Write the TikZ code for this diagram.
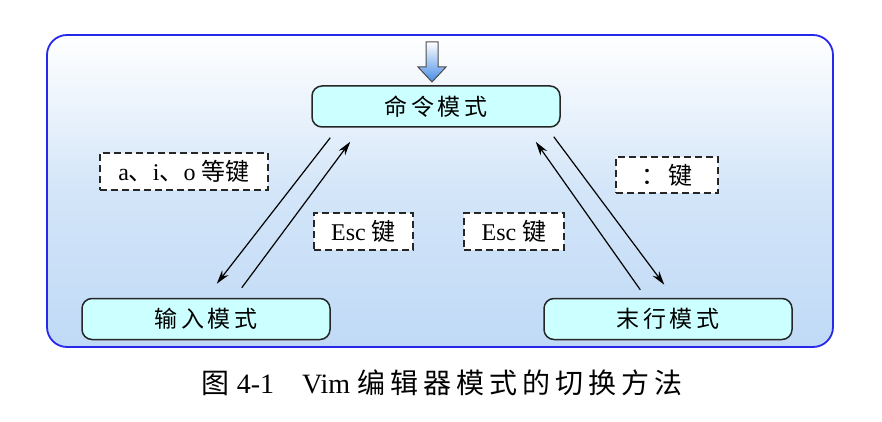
\documentclass[tikz,border=0pt]{standalone}
\usepackage{fontspec}
\setmainfont{Liberation Serif}
\newfontfamily\cjk{Noto Sans CJK SC}
\usetikzlibrary{arrows.meta,calc}
\definecolor{framblue}{RGB}{40,40,235}
\definecolor{bgblue}{RGB}{192,218,246}
\definecolor{modecyan}{RGB}{204,255,255}
\definecolor{arrblue}{RGB}{70,140,230}
\newcommand{\ck}{\kern5pt}
\tikzset{
  mode/.style={draw=black!85, line width=1.5pt, fill=modecyan, rounded corners=10pt,
    minimum width=248pt, minimum height=41pt, inner sep=0pt, font=\fontsize{23}{23}\selectfont\cjk},
  keybox/.style={draw=black!85, line width=1.9pt, dash pattern=on 7pt off 4pt, fill=white,
    inner sep=0pt, minimum height=37pt, font=\fontsize{24}{24}\selectfont},
  arr/.style={line width=1.2pt, -{Stealth[length=14pt,width=8pt]}}
}
\begin{document}
\begin{tikzpicture}[x=1pt,y=-1pt]
\useasboundingbox (0,0) rectangle (882,422);
% outer frame
\shade[top color=white, bottom color=bgblue, middle color=bgblue!70!white, rounded corners=20pt]
  (47,35) rectangle (833,347);
\draw[framblue, line width=1.8pt, rounded corners=20pt] (47,35) rectangle (833,347);
% entry arrow
\shade[top color=white, bottom color=arrblue]
  (426,42) -- (438,42) -- (438,67) -- (446,67) -- (432,82) -- (418,67) -- (426,67) -- cycle;
\draw[black!70, line width=1pt]
  (426,42) -- (438,42) -- (438,67) -- (446,67) -- (432,82) -- (418,67) -- (426,67) -- cycle;
% mode nodes
\node[mode] (cmd) at (436,106.5) {命\,令\,模\,式};
\node[mode] (inp) at (206,319) {输\,入\,模\,式};
\node[mode] (last) at (668,319) {末\,行\,模\,式};
% connectors
\draw[arr] ($(cmd.south west)+(19,10)$) -- ($(inp.north east)+(-114,-14)$);
\draw[arr] ($(inp.north east)+(-89,-10)$) -- ($(cmd.south west)+(39,14)$);
\draw[arr] ($(cmd.south east)+(-7,9)$) -- ($(last.north west)+(121,-13)$);
\draw[arr] ($(last.north west)+(97,-8)$) -- ($(cmd.south east)+(-25,14)$);
% key labels
\node[keybox, minimum width=168pt] (aio) at (184,171.5) {a{\cjk 、}i{\cjk 、}o {\cjk 等键}};
\node[keybox, minimum width=99pt] (escl) at (363.5,231.5) {Esc {\cjk 键}};
\node[keybox, minimum width=100pt] (escr) at (514,231.5) {Esc {\cjk 键}};
\node[keybox, minimum width=102pt, minimum height=36pt] (colon) at (667,175) {{\cjk ：\,键}};
% caption
\node[font=\fontsize{28}{28}\selectfont] (cap) at (442,383)
  {{\cjk 图} 4-1\hspace{28pt}Vim {\cjk 编\ck 辑\ck 器\ck 模\ck 式\ck 的\ck 切\ck 换\ck 方\ck 法}};
\end{tikzpicture}
\end{document}
